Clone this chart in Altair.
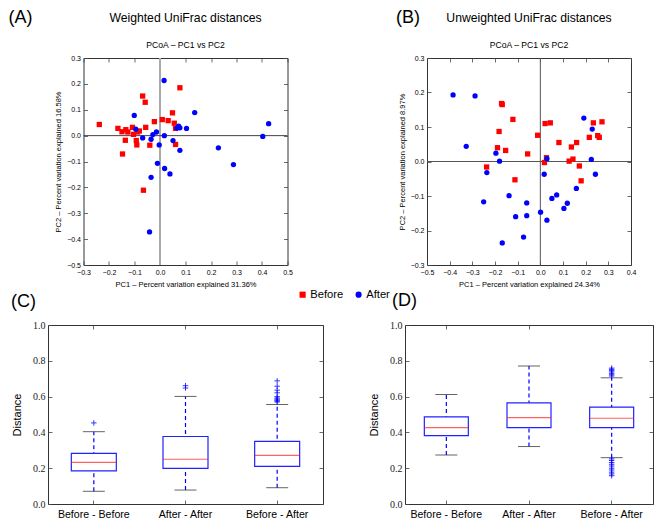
import altair as alt
import pandas as pd

SANS = "Liberation Sans"
SERIF = "Liberation Serif"

GROUPS = ["Before", "After"]
COLORS = ["#ff0000", "#0000ff"]
SHAPES = ["square", "circle"]
CATS = ["Before - Before", "After - After", "Before - After"]
PANEL_LABELS = ["(A)", "(B)", "(C)", "(D)"]
PANEL_TITLES = ["Weighted UniFrac distances", "Unweighted UniFrac distances"]
SUBTITLE = "PCoA – PC1 vs PC2"

# ---- Panel A: Weighted UniFrac PCoA ----
a_before_pc1 = [-0.238, -0.165, -0.149, -0.134, -0.126, -0.108, -0.104, -0.088, -0.081, -0.056,
                -0.068, -0.058, -0.022, 0.009, 0.032, 0.049, 0.056, 0.061, 0.078, -0.136,
                -0.093, -0.091, -0.147, -0.040, 0.061, -0.065]
a_before_pc2 = [0.043, 0.028, 0.015, 0.023, 0.014, 0.032, 0.005, 0.014, 0.018, 0.032,
                0.153, 0.129, 0.054, 0.062, 0.058, 0.088, 0.048, 0.028, 0.185, -0.018,
                -0.019, -0.036, -0.071, -0.037, -0.034, -0.211]
a_after_pc1 = [0.016, -0.101, -0.095, -0.068, -0.035, -0.028, -0.014, -0.003, 0.017, 0.051,
               0.078, 0.073, 0.066, 0.078, 0.104, 0.136, 0.229, 0.403, 0.426, 0.288,
               -0.010, 0.018, 0.039, -0.035, -0.041]
a_after_pc2 = [0.213, 0.078, 0.025, -0.009, -0.014, 0.004, 0.014, -0.036, 0.000, -0.019,
               -0.057, 0.037, 0.029, 0.030, 0.028, 0.089, -0.047, -0.003, 0.046, -0.112,
               -0.107, -0.127, -0.148, -0.161, -0.372]

# ---- Panel B: Unweighted UniFrac PCoA ----
b_before_pc1 = [-0.171, -0.168, -0.121, -0.182, -0.012, -0.189, -0.153, -0.056, 0.021, 0.044,
                0.082, 0.137, 0.160, 0.216, 0.234, 0.272, 0.253, 0.260, -0.237, -0.112,
                0.027, 0.018, 0.127, 0.144, 0.172, 0.180]
b_before_pc2 = [0.168, 0.165, 0.122, 0.087, 0.076, 0.040, 0.032, 0.022, 0.110, 0.112,
                0.055, 0.042, 0.055, 0.070, 0.112, 0.115, 0.075, 0.070, -0.016, -0.053,
                0.011, -0.003, 0.001, 0.007, -0.013, -0.056]
b_after_pc1 = [-0.385, -0.288, -0.327, -0.196, -0.180, -0.236, -0.250, -0.138, -0.060, -0.109,
               -0.060, -0.074, -0.168, 0.001, 0.029, 0.017, 0.029, 0.051, 0.072, 0.119,
               0.104, 0.159, 0.225, 0.243, 0.229, 0.192]
b_after_pc2 = [0.193, 0.190, 0.044, 0.024, 0.001, -0.032, -0.117, -0.099, -0.120, -0.160,
               -0.157, -0.219, -0.236, -0.147, -0.170, -0.037, 0.008, -0.107, -0.097, -0.121,
               -0.136, -0.078, 0.006, -0.037, 0.094, 0.126]

# ---- Panel C: Weighted distances (box summary) ----
c_low = [0.071, 0.078, 0.091]
c_q1 = [0.185, 0.199, 0.210]
c_med = [0.232, 0.250, 0.272]
c_q3 = [0.283, 0.377, 0.350]
c_high = [0.404, 0.601, 0.556]
c_out_cat = ["Before - Before", "After - After", "After - After"] + ["Before - After"] * 10
c_out_val = [0.453, 0.648, 0.661, 0.688, 0.658, 0.636, 0.621, 0.600, 0.592, 0.586, 0.580, 0.575, 0.570]

# ---- Panel D: Unweighted distances (box summary) ----
d_low = [0.274, 0.321, 0.259]
d_q1 = [0.382, 0.427, 0.427]
d_med = [0.427, 0.483, 0.479]
d_q3 = [0.487, 0.565, 0.541]
d_high = [0.612, 0.771, 0.705]
d_out_cat = ["Before - After"] * 17
d_out_val = [0.715, 0.722, 0.730, 0.738, 0.745, 0.752, 0.759,
             0.252, 0.243, 0.232, 0.222, 0.212, 0.200, 0.190, 0.178, 0.168, 0.158]

AX_TICKS = [-0.5, -0.4, -0.3, -0.2, -0.1, 0.0, 0.1, 0.2, 0.3, 0.4, 0.5]
BOX_TICKS = [0.0, 0.2, 0.4, 0.6, 0.8, 1.0]


def inner_axis(orient, offset, values=None):
    kw = dict(orient=orient, offset=offset, labels=False, title=None, domain=False,
              grid=False, ticks=True, tickSize=4, tickColor="#444", tickWidth=0.8,
              minExtent=0, maxExtent=0)
    if values is not None:
        kw["values"] = values
    return alt.Axis(**kw)


LEGEND = alt.Legend(orient="none", legendX=249, legendY=231, direction="horizontal",
                    title=None, labelFont=SANS, labelFontSize=11.2, labelColor="black",
                    symbolSize=38, symbolStrokeWidth=0, padding=0, columnPadding=9,
                    labelOffset=2)


def text_layer(txt, x, y, size, align="left"):
    return alt.Chart(pd.DataFrame({"t": [txt]})).mark_text(
        font=SANS, fontSize=size, align=align, baseline="alphabetic", color="black").encode(
        text="t:N", x=alt.value(x), y=alt.value(y))


def scatter(b1, b2, a1, a2, label, title, xt, yt, xd, yd, vcolor, vwidth, hcolor,
            label_x, W=204, H=207):
    df = pd.DataFrame({"pc1": b1 + a1, "pc2": b2 + a2,
                       "group": ["Before"] * len(b1) + ["After"] * len(a1)})
    xv = [v for v in AX_TICKS if xd[0] - 1e-9 <= v <= xd[1] + 1e-9]
    yv = [v for v in AX_TICKS if yd[0] - 1e-9 <= v <= yd[1] + 1e-9]
    xs = alt.Scale(domain=xd, nice=False, zero=False)
    ys = alt.Scale(domain=yd, nice=False, zero=False)
    zero = pd.DataFrame({"z": [0.0]})
    vrule = alt.Chart(zero).mark_rule(color=vcolor, strokeWidth=vwidth).encode(
        x=alt.X("z:Q", scale=xs, axis=inner_axis("top", -H, xv)))
    hrule = alt.Chart(zero).mark_rule(color=hcolor, strokeWidth=1).encode(
        y=alt.Y("z:Q", scale=ys, axis=inner_axis("right", -W, yv)))
    pts = alt.Chart(df).mark_point(filled=True, opacity=1, size=28, strokeWidth=0).encode(
        x=alt.X("pc1:Q", scale=xs, axis=alt.Axis(
            orient="bottom", values=xv, format=".1f", title=xt, ticks=False, domain=False,
            grid=False, labelFont=SANS, labelFontSize=7, labelColor="black", labelPadding=3,
            labelFlush=False, labelOverlap=False, titleFont=SANS, titleFontSize=7.5,
            titleFontWeight="normal", titleColor="black", titlePadding=5)),
        y=alt.Y("pc2:Q", scale=ys, axis=alt.Axis(
            orient="left", values=yv, format=".1f", title=yt, ticks=False, domain=False,
            grid=False, labelFont=SANS, labelFontSize=7, labelColor="black", labelPadding=3,
            labelFlush=False, labelOverlap=False, titleFont=SANS, titleFontSize=7.5,
            titleFontWeight="normal", titleColor="black", titlePadding=4)),
        color=alt.Color("group:N", scale=alt.Scale(domain=GROUPS, range=COLORS), legend=LEGEND),
        shape=alt.Shape("group:N", scale=alt.Scale(domain=GROUPS, range=SHAPES), legend=LEGEND),
    )
    ghost = alt.Chart(zero).mark_point(opacity=0).encode(
        x=alt.X("z:Q", scale=xs, axis=inner_axis("bottom", -H, xv)),
        y=alt.Y("z:Q", scale=ys, axis=inner_axis("left", -W, yv)))
    lab = text_layer(label, label_x, -35, 18)
    ttl = text_layer(title, W / 2, -36.5, 12.2, "center")
    sub = text_layer(SUBTITLE, W / 2, -10, 8.6, "center")
    return alt.layer(vrule, hrule, pts, ghost, lab, ttl, sub).resolve_axis(
        x="independent", y="independent").properties(width=W, height=H)


def boxpanel(lo, q1, med, q3, hi, ocat, oval, label, label_x, label_y, W, H, box_w):
    stats = pd.DataFrame({"cat": CATS, "lo": lo, "q1": q1, "med": med, "q3": q3, "hi": hi})
    caps = pd.DataFrame({"cat": CATS * 2, "v": lo + hi})
    outl = pd.DataFrame({"cat": ocat, "v": oval})
    xs = alt.Scale(domain=CATS, paddingInner=0, paddingOuter=0)
    ys = alt.Scale(domain=[0, 1], nice=False, zero=False)
    whisk = alt.Chart(stats).mark_rule(color="#0000ff", strokeDash=[4, 3], strokeWidth=1.2).encode(
        x=alt.X("cat:N", scale=xs, axis=inner_axis("top", -H)),
        y=alt.Y("lo:Q", scale=ys, axis=inner_axis("right", -W, BOX_TICKS)),
        y2="hi:Q")
    box = alt.Chart(stats).mark_bar(fill="white", stroke="#2222ff", strokeWidth=1.2,
                                    size=box_w).encode(
        x=alt.X("cat:N", scale=xs, axis=alt.Axis(
            orient="bottom", title=None, labelAngle=0, ticks=False, domain=False,
            labelFont=SANS, labelFontSize=10.6, labelColor="black", labelPadding=5)),
        y=alt.Y("q1:Q", scale=ys, axis=alt.Axis(
            orient="left", values=BOX_TICKS, format=".1f", title="Distance", ticks=False,
            domain=False, grid=False, labelFont=SERIF, labelFontSize=10, labelColor="#222",
            labelPadding=3, titleFont=SANS, titleFontSize=11, titleFontWeight="normal",
            titleColor="black", titlePadding=10)),
        y2="q3:Q")
    mline = alt.Chart(stats).mark_tick(color="#ff2020", size=box_w, thickness=1.2).encode(
        x=alt.X("cat:N", scale=xs, axis=None), y=alt.Y("med:Q", scale=ys, axis=None))
    capm = alt.Chart(caps).mark_tick(color="#222222", size=22, thickness=1).encode(
        x=alt.X("cat:N", scale=xs, axis=inner_axis("bottom", -H)),
        y=alt.Y("v:Q", scale=ys, axis=inner_axis("left", -W, BOX_TICKS)))
    outs = alt.Chart(outl).mark_point(shape="M-1,0L1,0M0,-1L0,1", size=30, color="#0000ff",
                                      strokeWidth=1, filled=False, opacity=0.8).encode(
        x=alt.X("cat:N", scale=xs, axis=None), y=alt.Y("v:Q", scale=ys, axis=None))
    lab = text_layer(label, label_x, label_y, 18)
    return alt.layer(whisk, box, mline, capm, outs, lab).resolve_axis(
        x="independent", y="independent").properties(width=W, height=H)


pA = scatter(a_before_pc1, a_before_pc2, a_after_pc1, a_after_pc2, PANEL_LABELS[0],
             PANEL_TITLES[0],
             "PC1 – Percent variation explained 31.36%",
             "PC2 – Percent variation explained 16.58%",
             [-0.3, 0.5], [-0.5, 0.3], "#aaaaaa", 2, "#444444", label_x=-75)
pB = scatter(b_before_pc1, b_before_pc2, b_after_pc1, b_after_pc2, PANEL_LABELS[1],
             PANEL_TITLES[1],
             "PC1 – Percent variation explained 24.34%",
             "PC2 – Percent variation explained 8.97%",
             [-0.5, 0.4], [-0.3, 0.3], "#555555", 1, "#555555", label_x=-31)
pC = boxpanel(c_low, c_q1, c_med, c_q3, c_high, c_out_cat, c_out_val, PANEL_LABELS[2],
              -37, -18, 275, 179, 45)
pD = boxpanel(d_low, d_q1, d_med, d_q3, d_high, d_out_cat, d_out_val, PANEL_LABELS[3],
              -13, -19, 248, 179, 44)

col1 = alt.vconcat(pA, pC, spacing=60, bounds="flush", center=True).resolve_scale(
    x="independent", y="independent")
col2 = alt.vconcat(pB, pD, spacing=60, bounds="flush", center=True).resolve_scale(
    x="independent", y="independent")

chart = alt.hconcat(col1, col2, spacing=44).resolve_scale(
    x="independent", y="independent", color="shared", shape="shared").properties(
    padding=0).configure_view(stroke="#333333", strokeWidth=1)

chart.save("out.html", embed_options={"renderer": "svg", "actions": False})
